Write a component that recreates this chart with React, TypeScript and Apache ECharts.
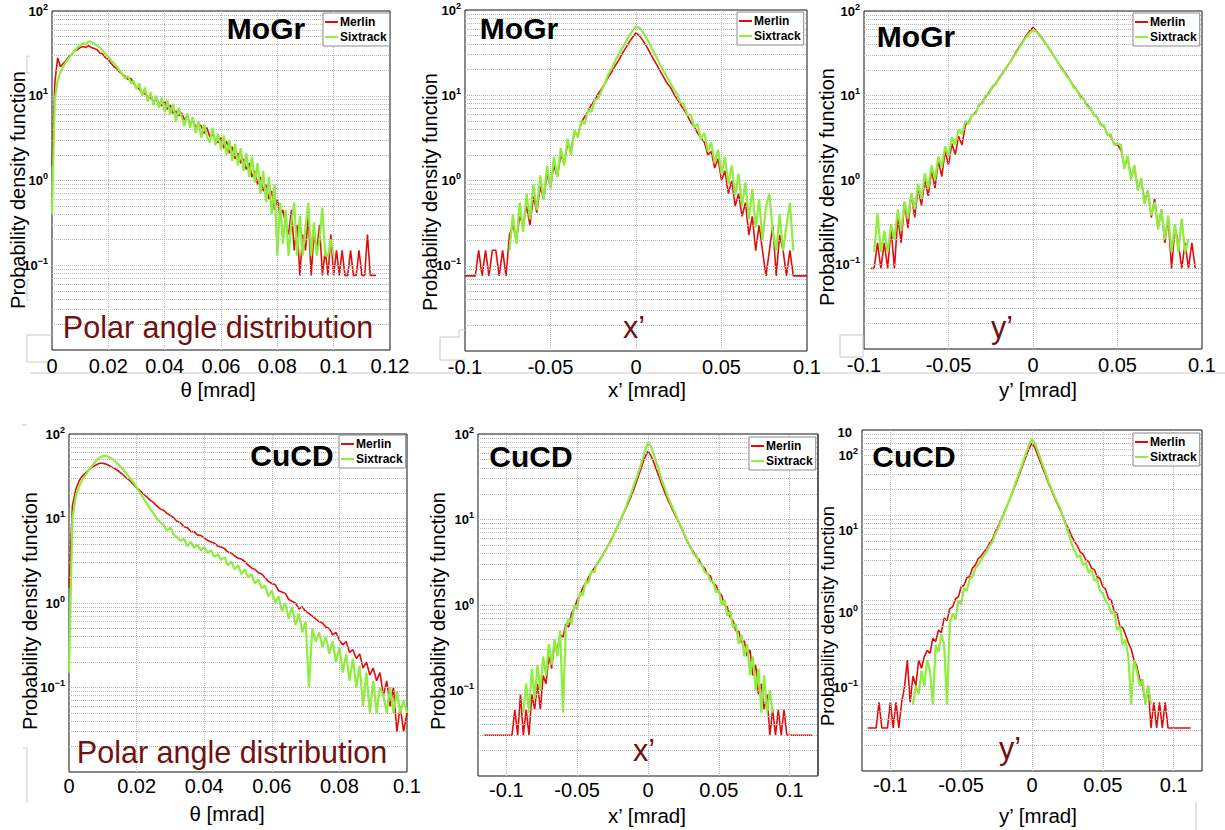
import React, { useEffect, useRef } from "react";
import * as echarts from "echarts";

const FONT = '"Liberation Sans", Arial, Helvetica, sans-serif';
const RED = "#e10d0d";
const GREEN = "#8cf03a";
const DARKRED = "#731010";

// ---------- Panel 1: MoGr, polar angle θ (bin 0.001 mrad) ----------
const p1Step = 0.001;
const p1MerlinStart = 0;
const p1Merlin = [
  1.5, 14, 28, 22, 24, 26, 29, 31, 34, 35,
  37, 38, 37, 39, 37, 36, 35, 32, 31, 28,
  27, 24, 22, 21, 19, 18, 17, 15.5, 16, 14,
  12.5, 12, 11, 10.5, 9.8, 9.5, 8.7, 9, 8.2, 7.6,
  8.6, 6.9, 7.8, 6.2, 6.6, 5.8, 6.3, 5.2, 5.8, 4.6,
  5.4, 4.2, 4.6, 4.4, 3.6, 4.2, 3.3, 3.5, 3.0, 2.8,
  3.2, 2.4, 2.9, 2.1, 2.5, 1.8, 2.1, 1.6, 1.8, 1.35,
  1.6, 1.1, 1.3, 0.9, 1.1, 0.75, 0.9, 0.6, 0.75, 0.45,
  0.6, 0.38, 0.45, 0.3, 0.23, 0.45, 0.15, 0.3, 0.076, 0.23,
  0.15, 0.38, 0.076, 0.23, 0.15, 0.3, 0.076, 0.15, 0.076, 0.23,
  0.076, 0.15, 0.076, 0.15, 0.076, 0.076, 0.15, 0.076, 0.076, 0.15,
  0.076, 0.076, 0.23, 0.076, 0.076, 0.076,
];
const p1SixStart = 0;
const p1Six = [
  0.4, 9, 15, 19, 22, 25, 28, 31, 34, 37,
  39, 42, 40, 44, 43, 41, 39, 37, 34, 31,
  29, 26, 24, 22, 20, 18, 16, 17, 14, 15,
  12, 14, 10, 12.5, 8.5, 11, 7.8, 10, 7.2, 9.4,
  6.4, 8.8, 6.0, 8.0, 5.0, 7.2, 5.6, 4.4, 6.2, 4.2,
  5.6, 3.6, 5.0, 3.2, 4.6, 3.3, 2.8, 4.2, 2.6, 3.6,
  2.3, 3.4, 2.0, 3.0, 1.7, 2.7, 1.5, 2.4, 1.3, 2.1,
  1.1, 1.9, 0.95, 1.6, 0.7, 1.3, 0.55, 1.1, 0.4, 0.9,
  0.13, 0.55, 0.18, 0.45, 0.13, 0.32, 0.55, 0.13, 0.38, 0.13,
  0.28, 0.55, 0.13, 0.32, 0.13, 0.2, 0.48, 0.13, 0.13, 0.2,
  0.13,
];

// ---------- Panel 2: MoGr, x' (bin 0.002 mrad) ----------
const p2Step = 0.002;
const p2MerlinStart = -0.1;
const p2Merlin = [
  0.076, 0.076, 0.076, 0.076, 0.152, 0.076, 0.152, 0.076, 0.152, 0.152,
  0.076, 0.152, 0.076, 0.23, 0.3, 0.2, 0.38, 0.3, 0.5, 0.3,
  0.65, 0.42, 0.85, 0.6, 1.2, 0.85, 1.5, 1.1, 2.0, 1.6,
  2.7, 2.3, 3.6, 3.4, 4.8, 5.6, 6.5, 7.8, 8.8, 10.5,
  12, 14, 16.5, 19, 22.5, 26, 31, 36, 42, 48,
  54, 50, 44, 38, 32, 27, 23, 19.5, 16.5, 14,
  12.5, 10.5, 9, 7.8, 6.8, 5.8, 4.8, 4.3, 3.6, 3.2,
  2.8, 2.0, 2.2, 1.4, 1.8, 1.0, 1.3, 0.7, 1.0, 0.5,
  0.7, 0.38, 0.55, 0.23, 0.38, 0.15, 0.3, 0.15, 0.076, 0.15,
  0.3, 0.076, 0.23, 0.152, 0.076, 0.152, 0.076, 0.076, 0.076, 0.076,
  0.076,
];
const p2SixStart = -0.074;
const p2Six = [
  0.15, 0.4, 0.18, 0.55, 0.25, 0.7, 0.35, 0.9, 0.45, 1.15,
  0.6, 1.5, 0.8, 1.9, 1.1, 2.4, 1.5, 3.1, 2.0, 3.9,
  3.2, 5.0, 4.6, 6.6, 6.4, 8.8, 9.2, 11.5, 14, 18,
  21, 26, 30, 36, 42, 50, 57, 64, 62, 55,
  47, 40, 33, 28, 23, 19.5, 16.5, 14, 12, 10.3,
  8.2, 7.9, 5.8, 6.0, 4.2, 4.6, 3.0, 3.6, 2.2, 2.8,
  1.6, 2.3, 1.2, 1.9, 0.9, 1.5, 0.65, 1.2, 0.5, 0.95,
  0.35, 0.8, 0.28, 0.6, 0.2, 0.5, 0.7, 0.25, 0.15, 0.4,
  0.15, 0.3, 0.55, 0.15,
];

// ---------- Panel 3: MoGr, y' (bin 0.002 mrad) ----------
const p3Step = 0.002;
const p3MerlinStart = -0.096;
const p3Merlin = [
  0.09, 0.09, 0.18, 0.09, 0.18, 0.09, 0.27, 0.09, 0.36, 0.18,
  0.55, 0.27, 0.7, 0.36, 0.8, 0.5, 1.0, 0.65, 1.3, 0.8,
  1.7, 1.1, 2.2, 1.5, 2.7, 2.0, 3.3, 2.6, 4.5, 4.9,
  5.8, 6.3, 7.6, 8.3, 9.5, 11, 12.5, 14, 16, 18.5,
  21, 24, 28, 33, 38, 44, 51, 58, 64, 58,
  52, 46, 40, 35, 30, 26, 22.5, 20, 17.5, 15,
  13, 11.5, 10, 9, 7.8, 7, 6.0, 5.5, 4.6, 4.3,
  3.5, 3.3, 2.7, 2.6,
  2.3, 1.5, 1.8, 1.1, 1.4, 0.8, 1.0, 0.55, 0.75, 0.36,
  0.6, 0.27, 0.45, 0.18, 0.36, 0.09, 0.27, 0.18, 0.09, 0.18,
  0.09, 0.18, 0.09,
];
const p3SixStart = -0.094;
const p3Six = [
  0.14, 0.4, 0.14, 0.25, 0.14, 0.3, 0.2, 0.45, 0.25, 0.55,
  0.35, 0.7, 0.45, 0.9, 0.6, 1.2, 0.8, 1.5, 1.0, 1.9,
  1.4, 2.5, 1.9, 3.2, 2.6, 4.0, 3.5, 5.0,
  4.6, 6.0, 6.0, 7.8, 8.0, 10, 10.5, 13, 13.5, 16.5, 18, 21.5,
  24, 28, 32, 37, 43, 49, 55, 59, 57, 51,
  45, 40, 35, 30, 26, 22, 19.5, 17, 15, 12.5,
  11.5, 9.5, 9.2, 7.4, 7.2, 5.8, 5.6, 4.4, 4.5, 3.4, 3.5, 2.6, 2.7,
  2.6, 1.35, 1.95, 1.0, 1.5, 0.75, 1.05, 0.52, 0.75, 0.38,
  0.55, 0.26, 0.45, 0.2, 0.38, 0.14, 0.3, 0.14, 0.35, 0.14,
  0.2,
];

// ---------- Panel 4: CuCD, polar angle θ (bin 0.001 mrad) ----------
const p4Step = 0.001;
const p4MerlinStart = 0;
const p4Merlin = [
  1.5, 14, 22, 28, 32, 35, 38, 41, 43, 45,
  45, 44, 42, 40, 38, 35.5, 33, 30, 28, 25.5,
  23, 21.5, 19.5, 18, 16.5, 15.5, 14, 13, 12.5, 11.5,
  10.8, 10.2, 9.2, 8.9, 8.0, 7.8, 7.0, 7.0, 6.4, 6.3,
  5.9, 5.5, 5.3, 5.1, 4.7, 4.6, 4.4, 4.0, 3.9, 3.6,
  3.4, 3.3, 3.1, 2.8, 2.6, 2.5, 2.3, 2.2, 2.0, 1.8,
  1.7, 1.65, 1.4, 1.35, 1.3, 1.1, 1.05, 1.0, 0.85, 0.9,
  0.8, 0.75, 0.7, 0.65, 0.6, 0.58, 0.52, 0.5, 0.42, 0.45,
  0.36, 0.32, 0.35, 0.26, 0.28, 0.22, 0.25, 0.17, 0.2, 0.14,
  0.17, 0.12, 0.15, 0.08, 0.12, 0.06, 0.1, 0.03, 0.06, 0.03,
  0.05,
];
const p4SixStart = 0;
const p4Six = [
  0.15, 10, 18, 24, 29, 33, 38, 43, 48, 52,
  55, 55, 53, 50, 46, 42, 38, 34, 30, 27,
  23.5, 20, 17.5, 15, 13, 11.5, 10, 9, 8.4, 7.2,
  7.8, 6.4, 6.0, 5.4, 5.8, 4.7, 5.3, 4.5, 4.9, 4.2,
  4.6, 3.9, 4.2, 3.5, 3.8, 3.2, 3.5, 2.8, 3.1, 2.5,
  2.8, 2.2, 2.5, 2.0, 2.2, 1.7, 1.9, 1.5, 1.6, 1.2,
  1.4, 1.0, 1.2, 0.8, 1.0, 0.65, 0.9, 0.55, 0.75, 0.45,
  0.6, 0.1, 0.5, 0.35, 0.45, 0.3, 0.4, 0.25, 0.35, 0.2,
  0.3, 0.15, 0.25, 0.12, 0.22, 0.1, 0.18, 0.06, 0.15, 0.05,
  0.12, 0.05, 0.1, 0.08, 0.05, 0.1, 0.05, 0.09, 0.05, 0.07,
  0.05,
];

// ---------- Panel 5: CuCD, x' (bin 0.002 mrad) ----------
const p5Step = 0.002;
const p5MerlinStart = -0.116;
const p5Merlin = [
  0.03, 0.03, 0.03, 0.03, 0.03, 0.03, 0.03, 0.03, 0.03, 0.03,
  0.03, 0.06, 0.03, 0.09, 0.03, 0.06, 0.03, 0.09, 0.06, 0.12,
  0.06, 0.15, 0.12, 0.25, 0.18, 0.35, 0.3, 0.45, 0.42, 0.6,
  0.55, 0.8, 0.9, 1.15, 1.3, 1.6, 1.8, 2.1, 2.4, 2.7,
  3.0, 3.4, 3.8, 4.4, 5.0, 5.8, 6.8, 8.0, 9.4, 11,
  13, 15.5, 18.5, 22.5, 28, 35, 44, 54, 63, 56,
  47, 38, 31, 25, 20.5, 17, 14.5, 12.3, 10.5, 9.0,
  7.6, 6.4, 5.5, 4.7, 4.2, 3.7, 3.4, 2.9, 2.7, 2.3,
  2.2, 1.8, 1.7, 1.4, 1.3, 1.0, 0.95, 0.72, 0.66, 0.5,
  0.5, 0.36, 0.38, 0.25, 0.3, 0.15, 0.2, 0.09, 0.12, 0.06,
  0.09, 0.03, 0.06, 0.03, 0.06, 0.03, 0.06, 0.03, 0.03, 0.03,
  0.03, 0.03, 0.03, 0.03, 0.03, 0.03, 0.03,
];
const p5SixStart = -0.088;
const p5Six = [
  0.055, 0.12, 0.055, 0.18, 0.08, 0.2, 0.1, 0.25, 0.15, 0.35,
  0.2, 0.4, 0.25, 0.5, 0.055, 0.55, 0.7, 0.6, 1.0, 0.9,
  1.4, 1.3, 1.9, 1.8, 2.5, 2.4, 3.1, 3.3, 3.9, 4.3,
  5.0, 5.6, 6.8, 7.9, 9.4, 11.2, 13.5, 16.5, 20, 25,
  31, 39, 50, 64, 79, 72, 58, 46, 36, 28,
  23, 18.5, 15.5, 13, 11, 9.2, 7.8, 6.6, 5.3, 4.9,
  3.9, 3.9, 3.1, 3.0, 2.4, 2.4, 1.9, 1.9, 1.4, 1.5,
  1.0, 1.15, 0.75, 0.85, 0.55, 0.6, 0.35, 0.45, 0.25, 0.35,
  0.15, 0.25, 0.1, 0.18, 0.055, 0.15, 0.055, 0.1, 0.055,
];

// ---------- Panel 6: CuCD, y' (bin 0.002 mrad) ----------
const p6Step = 0.002;
const p6MerlinStart = -0.116;
const p6Merlin = [
  0.032, 0.032, 0.032, 0.032, 0.064, 0.032, 0.032, 0.032, 0.064, 0.032,
  0.064, 0.032, 0.064, 0.096, 0.2, 0.064, 0.13, 0.1, 0.2, 0.16,
  0.22, 0.26, 0.24, 0.36, 0.33, 0.45, 0.42, 0.62, 0.58, 0.8,
  0.85, 1.05, 1.1, 1.45, 1.5, 1.85, 1.9, 2.4, 2.6, 3.1,
  3.3, 3.7, 4.0, 4.7, 5.2, 6.3, 7.4, 8.8, 10.5, 12.5,
  15, 18, 22, 27, 33, 41, 50, 61, 70, 62,
  51, 42, 34, 28, 23, 19, 16, 13.5, 11.5, 9.6,
  8.0, 6.8, 5.7, 4.9, 4.4, 3.7, 3.5, 3.0, 2.85, 2.4,
  2.3, 1.9, 1.8, 1.45, 1.35, 1.05, 1.0, 0.75, 0.7, 0.5,
  0.48, 0.4, 0.32, 0.27, 0.2, 0.17, 0.12, 0.1, 0.064, 0.1,
  0.032, 0.064, 0.032, 0.064, 0.032, 0.064, 0.032, 0.032, 0.032, 0.032,
  0.032, 0.032, 0.032, 0.032, 0.032,
];
const p6SixStart = -0.084;
const p6Six = [
  0.06, 0.1, 0.08, 0.15, 0.1, 0.2, 0.15, 0.06, 0.3, 0.25,
  0.4, 0.3, 0.06, 0.55, 0.7, 0.6, 1.0, 0.9, 1.4, 1.3,
  1.8, 1.9, 2.4, 2.6, 3.0, 3.4, 3.7, 4.4, 4.8, 6.0,
  6.9, 8.5, 10.2, 12.3, 15, 18.5, 23, 28.5, 35, 44,
  55, 68, 78, 70, 57, 46, 37, 30, 24, 20,
  16.5, 14, 12, 9.5, 7.5, 6.0, 4.6, 3.9, 3.2, 3.4,
  2.6, 2.8, 2.1, 2.3, 1.7, 1.8, 1.3, 1.2, 1.0, 0.9,
  0.7, 0.75, 0.45, 0.5, 0.3, 0.35, 0.22, 0.06, 0.2, 0.15,
  0.1, 0.12, 0.06, 0.1, 0.06,
];

// tick / grid positions
const yMinorGrid = [
  0.02, 0.03, 0.04, 0.05, 0.06, 0.07, 0.08, 0.09, 0.1,
  0.2, 0.3, 0.4, 0.5, 0.6, 0.7, 0.8, 0.9, 1,
  2, 3, 4, 5, 6, 7, 8, 9, 10,
  20, 30, 40, 50, 60, 70, 80, 90,
];
const xGridTheta12 = [0.02, 0.04, 0.06, 0.08, 0.1];
const xGridTheta10 = [0.02, 0.04, 0.06, 0.08];
const xGridAngle = [-0.1, -0.05, 0, 0.05, 0.1];
// the last panel's y labels sit off their grid lines in the source figure
const p6YLabels: [string, number][] = [["2", 455], ["1", 530], ["0", 612], ["−1", 687]];

function pairs(start: number, step: number, vals: number[]) {
  return vals.map((v, i) => [Math.round((start + i * step) * 1e6) / 1e6, v]);
}

type Panel = {
  grid: { left: number; top: number; width: number; height: number };
  xMin: number;
  xMax: number;
  xInterval: number;
  labelEvery: number;
  labelMargin: number;
  xGrid: number[];
  merlin: number[][];
  six: number[][];
  title: string;
  titlePos: [number, number];
  sub: string;
  subPos: [number, number];
  xName: string;
  xNamePos: [number, number];
  yNamePos: [number, number];
  yNameSize: number;
  legendPos: [number, number];
  yLabels: boolean;
};

const panels: Panel[] = [
  {
    grid: { left: 52, top: 11, width: 338, height: 339 },
    xMin: 0, xMax: 0.12, xInterval: 0.02, labelEvery: 0.02, labelMargin: 6, xGrid: xGridTheta12,
    merlin: pairs(p1MerlinStart, p1Step, p1Merlin),
    six: pairs(p1SixStart, p1Step, p1Six),
    title: "MoGr", titlePos: [266, 28],
    sub: "Polar angle distribution", subPos: [218, 327],
    xName: "θ [mrad]", xNamePos: [218, 389],
    yNamePos: [18, 190], yNameSize: 20,
    legendPos: [323, 13], yLabels: true,
  },
  {
    grid: { left: 465, top: 10, width: 342, height: 341 },
    xMin: -0.1, xMax: 0.1, xInterval: 0.05, labelEvery: 0.05, labelMargin: 6, xGrid: xGridAngle.slice(1, 4),
    merlin: pairs(p2MerlinStart, p2Step, p2Merlin),
    six: pairs(p2SixStart, p2Step, p2Six),
    title: "MoGr", titlePos: [519, 28],
    sub: "x’", subPos: [634, 327],
    xName: "x’ [mrad]", xNamePos: [647, 389],
    yNamePos: [430, 192], yNameSize: 20,
    legendPos: [737, 12], yLabels: true,
  },
  {
    grid: { left: 864, top: 11, width: 338, height: 338 },
    xMin: -0.1, xMax: 0.1, xInterval: 0.05, labelEvery: 0.05, labelMargin: 6, xGrid: xGridAngle.slice(1, 4),
    merlin: pairs(p3MerlinStart, p3Step, p3Merlin),
    six: pairs(p3SixStart, p3Step, p3Six),
    title: "MoGr", titlePos: [916, 36],
    sub: "y’", subPos: [1002, 327],
    xName: "y’ [mrad]", xNamePos: [1038, 389],
    yNamePos: [827, 187], yNameSize: 20,
    legendPos: [1133, 13], yLabels: true,
  },
  {
    grid: { left: 69, top: 434, width: 338, height: 338 },
    xMin: 0, xMax: 0.1, xInterval: 0.02, labelEvery: 0.02, labelMargin: 4, xGrid: xGridTheta10,
    merlin: pairs(p4MerlinStart, p4Step, p4Merlin),
    six: pairs(p4SixStart, p4Step, p4Six),
    title: "CuCD", titlePos: [292, 455],
    sub: "Polar angle distribution", subPos: [232, 752],
    xName: "θ [mrad]", xNamePos: [227, 813],
    yNamePos: [30, 611], yNameSize: 20,
    legendPos: [339, 435], yLabels: true,
  },
  {
    grid: { left: 478, top: 434, width: 340, height: 342 },
    xMin: -0.12, xMax: 0.12, xInterval: 0.01, labelEvery: 0.05, labelMargin: 4, xGrid: xGridAngle,
    merlin: pairs(p5MerlinStart, p5Step, p5Merlin),
    six: pairs(p5SixStart, p5Step, p5Six),
    title: "CuCD", titlePos: [531, 456],
    sub: "x’", subPos: [644, 750],
    xName: "x’ [mrad]", xNamePos: [647, 815],
    yNamePos: [438, 611], yNameSize: 20,
    legendPos: [749, 437], yLabels: true,
  },
  {
    grid: { left: 862, top: 430, width: 340, height: 341 },
    xMin: -0.12, xMax: 0.12, xInterval: 0.01, labelEvery: 0.05, labelMargin: 4, xGrid: xGridAngle,
    merlin: pairs(p6MerlinStart, p6Step, p6Merlin),
    six: pairs(p6SixStart, p6Step, p6Six),
    title: "CuCD", titlePos: [914, 456],
    sub: "y’", subPos: [1010, 748],
    xName: "y’ [mrad]", xNamePos: [1038, 815],
    yNamePos: [827, 616], yNameSize: 18.5,
    legendPos: [1133, 433], yLabels: false,
  },
];

function fmtX(every: number) {
  return (v: number) => {
    const k = Math.round((v / every) * 1000) / 1000;
    if (Math.abs(k - Math.round(k)) > 1e-6) return "";
    const r = Math.round(v * 1000) / 1000;
    return String(r);
  };
}

function fmtY(v: number) {
  const e = Math.round(Math.log10(v));
  if (e < -1) return "";
  const exp = e < 0 ? "−" + -e : String(e);
  return `{b|10}{e|${exp}}`;
}

const yRich = {
  b: { fontSize: 13, fontWeight: "bold", color: "#000", fontFamily: FONT, lineHeight: 18 },
  e: { fontSize: 9, fontWeight: "bold", color: "#000", fontFamily: FONT, lineHeight: 9, verticalAlign: "top" },
};

function buildOption() {
  const grid = panels.map((p) => ({
    ...p.grid,
    show: true,
    borderColor: "#111",
    borderWidth: 1,
    backgroundColor: "#fff",
    containLabel: false,
  }));
  const xAxis = panels.map((p, i) => ({
    type: "value",
    gridIndex: i,
    min: p.xMin,
    max: p.xMax,
    interval: p.xInterval,
    axisLine: { show: false },
    axisTick: { show: false },
    splitLine: { show: false },
    axisLabel: {
      interval: 0,
      fontSize: 20,
      color: "#000",
      fontFamily: FONT,
      margin: p.labelMargin,
      formatter: fmtX(p.labelEvery),
    },
  }));
  const yAxis = panels.map((p, i) => ({
    type: "log",
    logBase: 10,
    gridIndex: i,
    min: 0.01,
    max: 100,
    axisLine: { show: false },
    axisTick: { show: false },
    splitLine: { show: false },
    axisLabel: {
      show: p.yLabels,
      margin: 4,
      formatter: fmtY,
      rich: yRich,
    },
  }));
  const series: any[] = [];
  panels.forEach((p, i) => {
    series.push({
      type: "line",
      xAxisIndex: i,
      yAxisIndex: i,
      data: [],
      silent: true,
      z: 1,
      markLine: {
        silent: true,
        animation: false,
        symbol: ["none", "none"],
        label: { show: false },
        lineStyle: { color: "#b9b9b9", type: "dotted", width: 1 },
        emphasis: { disabled: true },
        data: [
          ...yMinorGrid.map((v) => ({ yAxis: v })),
          ...p.xGrid.map((v) => ({ xAxis: v })),
        ],
      },
    });
    series.push({
      name: "Merlin",
      type: "line",
      xAxisIndex: i,
      yAxisIndex: i,
      data: p.merlin,
      symbol: "none",
      showSymbol: false,
      silent: true,
      lineStyle: { color: RED, width: 1.6 },
      itemStyle: { color: RED },
      z: 2,
    });
    series.push({
      name: "Sixtrack",
      type: "line",
      xAxisIndex: i,
      yAxisIndex: i,
      data: p.six,
      symbol: "none",
      showSymbol: false,
      silent: true,
      lineStyle: { color: GREEN, width: 2.2 },
      itemStyle: { color: GREEN },
      z: 3,
    });
  });
  const legend = panels.map((p) => ({
    left: p.legendPos[0],
    top: p.legendPos[1],
    orient: "vertical",
    data: ["Merlin", "Sixtrack"],
    icon: "rect",
    itemWidth: 13,
    itemHeight: 2,
    itemGap: 3,
    padding: [3, 3, 3, 2],
    backgroundColor: "#fff",
    borderColor: "#8a8a8a",
    borderWidth: 1,
    selectedMode: false,
    textStyle: { fontSize: 12, fontWeight: "bold", color: "#000", fontFamily: FONT, padding: [0, 0, 0, -3] },
    z: 10,
  }));
  const graphic: any[] = [];
  panels.forEach((p) => {
    graphic.push({
      type: "text", x: p.titlePos[0], y: p.titlePos[1], z: 20,
      style: { text: p.title, fill: "#000", font: `bold 30px ${FONT}`, textAlign: "center", textVerticalAlign: "middle" },
    });
    graphic.push({
      type: "text", x: p.subPos[0], y: p.subPos[1], z: 20,
      style: { text: p.sub, fill: DARKRED, font: `30.5px ${FONT}`, textAlign: "center", textVerticalAlign: "middle" },
    });
    graphic.push({
      type: "text", x: p.xNamePos[0], y: p.xNamePos[1], z: 20,
      style: { text: p.xName, fill: "#000", font: `20.5px ${FONT}`, textAlign: "center", textVerticalAlign: "middle" },
    });
    graphic.push({
      type: "text", x: p.yNamePos[0], y: p.yNamePos[1], rotation: Math.PI / 2, z: 20,
      style: { text: "Probability density function", fill: "#000", font: `${p.yNameSize}px ${FONT}`, textAlign: "center", textVerticalAlign: "middle" },
    });
  });
  // y labels of the last panel, displaced as in the source
  p6YLabels.forEach(([exp, y]) => {
    graphic.push({
      type: "text", x: 858, y, z: 20,
      style: { text: `{b|10}{e|${exp}}`, rich: yRich, textAlign: "right", textVerticalAlign: "middle" },
    });
  });
  graphic.push({
    type: "text", x: 852, y: 432, z: 20,
    style: { text: "10", fill: "#000", font: `bold 13px ${FONT}`, textAlign: "right", textVerticalAlign: "middle" },
  });
  // faint leftover frame marks from the pasted figure
  const faint = { stroke: "#c9c9c9", lineWidth: 1, fill: "none" };
  graphic.push({ type: "line", shape: { x1: 30, y1: 373, x2: 1225, y2: 373 }, style: faint, silent: true });
  graphic.push({ type: "polyline", shape: { points: [[30, 56], [27, 56], [27, 73], [30, 73]] }, style: faint, silent: true });
  graphic.push({ type: "polyline", shape: { points: [[30, 280], [27, 280], [27, 300], [30, 300]] }, style: faint, silent: true });
  graphic.push({ type: "polyline", shape: { points: [[52, 335], [27, 335], [27, 362], [52, 362]] }, style: faint, silent: true });
  graphic.push({ type: "polyline", shape: { points: [[465, 330], [459, 330], [459, 337], [440, 337], [440, 360], [465, 360]] }, style: faint, silent: true });
  graphic.push({ type: "rect", shape: { x: 840, y: 335, width: 23, height: 22 }, style: faint, silent: true });
  graphic.push({ type: "line", shape: { x1: 22, y1: 425, x2: 27, y2: 425 }, style: faint, silent: true });
  graphic.push({ type: "polyline", shape: { points: [[23, 748], [27, 748], [27, 803]] }, style: faint, silent: true });
  graphic.push({ type: "line", shape: { x1: 818, y1: 434, x2: 818, y2: 775 }, style: { stroke: "#333", lineWidth: 1 }, silent: true });
  graphic.push({ type: "line", shape: { x1: 1196, y1: 802, x2: 1196, y2: 830 }, style: faint, silent: true });

  return {
    animation: false,
    backgroundColor: "#fff",
    grid,
    xAxis,
    yAxis,
    legend,
    series,
    graphic,
  };
}

export default function App() {
  const ref = useRef<HTMLDivElement>(null);
  useEffect(() => {
    if (!ref.current) return;
    const chart = echarts.init(ref.current, undefined, { renderer: "svg" });
    chart.setOption(buildOption() as any);
    return () => chart.dispose();
  }, []);
  return (
    <div
      ref={ref}
      style={{ position: "absolute", left: 0, top: 0, width: 1225, height: 830, background: "#fff" }}
    />
  );
}
